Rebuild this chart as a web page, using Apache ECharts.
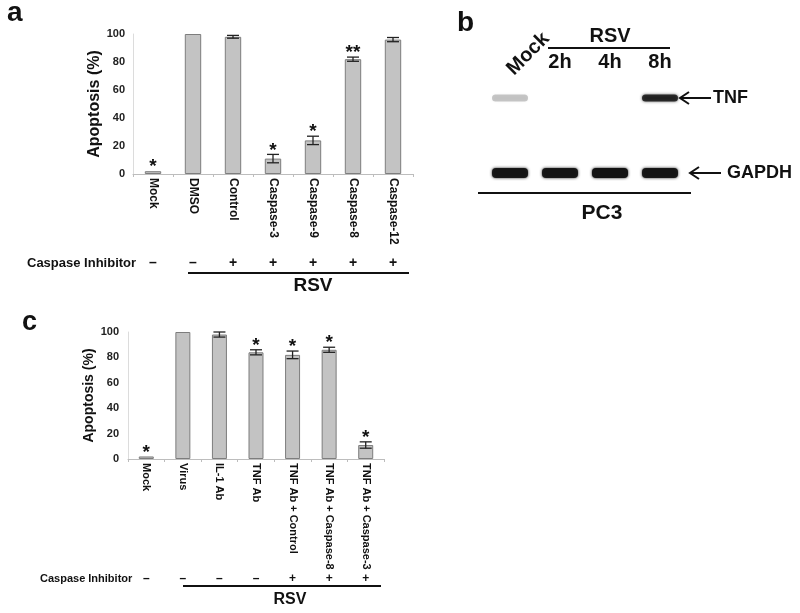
<!DOCTYPE html>
<html><head><meta charset="utf-8">
<script src="https://cdn.jsdelivr.net/npm/echarts@6/dist/echarts.min.js"></script>
<style>html,body{margin:0;padding:0;background:#fff}#c{width:800px;height:613px}</style>
</head><body><div id="c"></div>
<script>
// Panel a
const catsA = ['Mock','DMSO','Control','Caspase-3','Caspase-9','Caspase-8','Caspase-12'];
const valsA = [2,100,98,11,24,82,96];
const errA = [0,0,1,3,3,1.5,1.5];
const starsA = ['*','','','*','*','**',''];
const signsA = ['–','–','+','+','+','+','+'];
// Panel c
const catsC = ['Mock','Virus','IL-1 Ab','TNF Ab','TNF Ab + Control','TNF Ab + Caspase-8','TNF Ab + Caspase-3'];
const valsC = [2,100,98,84,82,86,11];
const errC = [0,0,2,2,3,2,2.5];
const starsC = ['*','','','*','*','*','*'];
const signsC = ['–','–','–','–','+','+','+'];
// Panel b (blot band intensities)
const lanesB = ['Mock','2h','4h','8h'];
const rowsB = ['GAPDH','TNF'];
const tnfB = [0.22,0,0,0.82];
const gapdhB = [0.95,0.95,1,0.95];

const FF = '"Liberation Sans", Arial, sans-serif';
const chart = echarts.init(document.getElementById('c'), null, {renderer:'canvas'});

function errRender(stars, starSize){
  return function(params, api){
    const x = api.value(0), v = api.value(1), e = api.value(2);
    const top = api.coord([x, v + e]);
    const bot = api.coord([x, v - e]);
    const cap = 6;
    const ch = [];
    const st = {stroke:'#222', lineWidth:1.3};
    if (e > 0) {
      ch.push({type:'line', shape:{x1:top[0], y1:top[1], x2:bot[0], y2:bot[1]}, style:st});
      ch.push({type:'line', shape:{x1:top[0]-cap, y1:top[1], x2:top[0]+cap, y2:top[1]}, style:st});
      ch.push({type:'line', shape:{x1:bot[0]-cap, y1:bot[1], x2:bot[0]+cap, y2:bot[1]}, style:st});
    }
    const s = stars[params.dataIndex];
    if (s) ch.push({type:'text', style:{text:s, x:top[0], y:top[1]-4, align:'center', verticalAlign:'middle', font:'bold '+starSize+'px '+FF, fill:'#111'}});
    return {type:'group', children:ch};
  };
}

function bandRender(params, api){
  const inten = api.value(2);
  if (!(inten > 0)) return;
  const row = api.value(1);
  const c = api.coord([api.value(0), row]);
  const w = api.size([1, 0])[0] * 0.72;
  const h = row === 1 ? 7 : 10;
  const col = 'rgba(18,18,18,' + inten + ')';
  return {type:'rect', shape:{x:c[0]-w/2, y:c[1]-h/2, width:w, height:h, r:4},
          style:{fill:col, shadowBlur:3, shadowColor:col}};
}

function arrowRender(params, api){
  const row = api.value(1);
  const c = api.coord([api.value(0), row]);
  const hx = c[0] + (row === 1 ? 20 : 30);
  const tx = hx + 31, y = c[1];
  const st = {stroke:'#111', lineWidth:2, fill:null};
  return {type:'group', children:[
    {type:'line', shape:{x1:hx+1, y1:y, x2:tx, y2:y}, style:st},
    {type:'polyline', shape:{points:[[hx+9, y-6],[hx, y],[hx+9, y+6]]}, style:st}
  ]};
}

const bandData = [];
lanesB.forEach((l, i) => { bandData.push([i, 1, tnfB[i]]); bandData.push([i, 0, gapdhB[i]]); });

function catAxis(grid, cats, fs){
  return {type:'category', gridIndex:grid, data:cats, position:'bottom',
    axisLine:{show:true, lineStyle:{color:'#bdbdbd', width:1}},
    axisTick:{show:true, length:3, lineStyle:{color:'#bdbdbd'}},
    axisLabel:{interval:0, rotate:-90, margin:4, fontFamily:FF, fontWeight:'bold', fontSize:fs, color:'#111'}};
}
function signAxis(grid, cats, signs, offset, fs){
  return {type:'category', gridIndex:grid, data:cats, position:'bottom', offset:offset,
    axisLine:{show:false}, axisTick:{show:false},
    axisLabel:{interval:0, margin:0, fontFamily:FF, fontWeight:'bold', fontSize:fs, color:'#111',
      formatter:(v, i) => signs[i]}};
}
function valAxis(grid, gap, nfs, margin){
  return {type:'value', gridIndex:grid, min:0, max:100, interval:20,
    name:'Apoptosis (%)', nameLocation:'middle', nameGap:gap,
    nameTextStyle:{fontFamily:FF, fontWeight:'bold', fontSize:nfs, color:'#111'},
    axisLine:{show:true, lineStyle:{color:'#dcdcdc'}},
    axisTick:{show:false}, splitLine:{show:false},
    axisLabel:{margin:margin, fontFamily:FF, fontWeight:'bold', fontSize:11, color:'#222'}};
}

const txt = (x, y, text, size, align) => ({type:'text', x:x, y:y,
  style:{text:text, font:'bold '+size+'px '+FF, fill:'#111', align:align||'left', verticalAlign:'middle'}});
const hline = (x1, x2, y, w) => ({type:'line', shape:{x1:x1, y1:y, x2:x2, y2:y}, style:{stroke:'#111', lineWidth:w||2}});

chart.setOption({
  animation:false,
  backgroundColor:'#fff',
  grid:[
    {left:133, top:34, width:280, height:140},
    {left:128, top:332, width:256, height:127},
    {left:485, top:98, width:200, height:75}
  ],
  xAxis:[
    catAxis(0, catsA, 12),
    signAxis(0, catsA, signsA, 82, 14),
    catAxis(1, catsC, 11),
    signAxis(1, catsC, signsC, 114, 12),
    {type:'category', gridIndex:2, data:lanesB, position:'top', offset:22,
      axisLine:{show:false}, axisTick:{show:false},
      axisLabel:{interval:0, margin:4, fontFamily:FF, fontWeight:'bold', fontSize:20, color:'#111',
        formatter:(v, i) => i === 0 ? '' : v}},
    {type:'category', gridIndex:2, data:lanesB, position:'top', offset:24,
      axisLine:{show:false}, axisTick:{show:false},
      axisLabel:{interval:0, margin:2, rotate:-45, fontFamily:FF, fontWeight:'bold', fontSize:20, color:'#111',
        formatter:(v, i) => i === 0 ? v : ''}}
  ],
  yAxis:[
    valAxis(0, 29, 16, 8),
    valAxis(1, 32, 14, 9),
    {type:'category', gridIndex:2, data:rowsB, boundaryGap:false, position:'right',
      axisLine:{show:false}, axisTick:{show:false}, splitLine:{show:false},
      axisLabel:{margin:28, fontFamily:FF, fontWeight:'bold', fontSize:18, color:'#111',
        formatter:(v) => v === 'GAPDH' ? '{g|' + v + '}' : v,
        rich:{g:{fontFamily:FF, fontWeight:'bold', fontSize:18, color:'#111', padding:[0,0,0,14]}}}}
  ],
  series:[
    {type:'bar', xAxisIndex:0, yAxisIndex:0, data:valsA, barWidth:'41%',
      itemStyle:{color:'#c3c3c3', borderColor:'#7d7d7d', borderWidth:1}},
    {type:'custom', xAxisIndex:0, yAxisIndex:0, renderItem:errRender(starsA, 19),
      data:valsA.map((v, i) => [i, v, errA[i]]), z:5},
    {type:'bar', xAxisIndex:2, yAxisIndex:1, data:valsC, barWidth:'41%',
      itemStyle:{color:'#c3c3c3', borderColor:'#7d7d7d', borderWidth:1}},
    {type:'custom', xAxisIndex:2, yAxisIndex:1, renderItem:errRender(starsC, 19),
      data:valsC.map((v, i) => [i, v, errC[i]]), z:5},
    {type:'custom', xAxisIndex:4, yAxisIndex:2, renderItem:bandRender, data:bandData},
    {type:'custom', xAxisIndex:4, yAxisIndex:2, renderItem:arrowRender, data:[[3, 1], [3, 0]]}
  ],
  graphic:[
    txt(7, 13, 'a', 28),
    txt(457, 23, 'b', 28),
    txt(22, 323, 'c', 27),
    txt(27, 263, 'Caspase Inhibitor', 13),
    hline(188, 409, 273, 2),
    txt(313, 286, 'RSV', 19, 'center'),
    txt(40, 579, 'Caspase Inhibitor', 11),
    hline(183, 381, 586, 2),
    txt(290, 600, 'RSV', 16, 'center'),
    txt(610, 36, 'RSV', 20, 'center'),
    hline(548, 670, 48, 2),
    hline(478, 691, 193, 2),
    txt(602, 213, 'PC3', 21, 'center')
  ]
});
</script></body></html>
